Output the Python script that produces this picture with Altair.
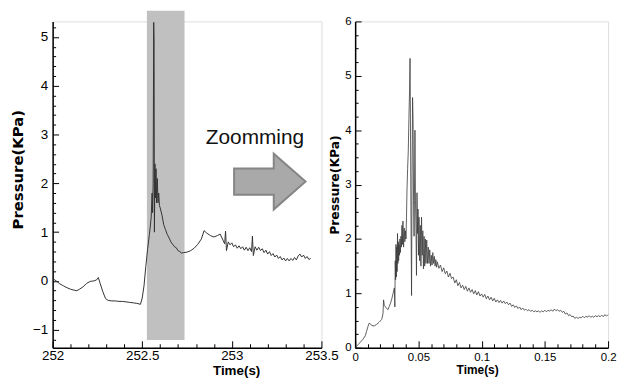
import altair as alt
import pandas as pd

# ---------------- data ----------------
left_time = [
    252.000, 252.020, 252.040, 252.060, 252.080, 252.100, 252.120, 252.135, 252.150, 252.170,
    252.190, 252.210, 252.230, 252.245, 252.255, 252.265, 252.280, 252.295, 252.310, 252.330,
    252.350, 252.370, 252.390, 252.410, 252.430, 252.450, 252.470, 252.490, 252.500, 252.510,
    252.520, 252.530, 252.540, 252.550, 252.555, 252.558, 252.561, 252.564, 252.566, 252.568,
    252.571, 252.574, 252.577, 252.580, 252.584, 252.588, 252.592, 252.596, 252.600, 252.610,
    252.620, 252.630, 252.640, 252.650, 252.660, 252.670, 252.680, 252.690, 252.700, 252.710,
    252.720, 252.730, 252.750, 252.770, 252.790, 252.810, 252.830, 252.845, 252.860, 252.880,
    252.900, 252.920, 252.935, 252.950, 252.960, 252.965, 252.970, 252.980, 252.990, 253.000,
    253.010, 253.020, 253.030, 253.040, 253.050, 253.060, 253.070, 253.080, 253.090, 253.100,
    253.110, 253.115, 253.120, 253.130, 253.140, 253.150, 253.160, 253.170, 253.180, 253.190,
    253.200, 253.210, 253.220, 253.230, 253.240, 253.250, 253.260, 253.270, 253.280, 253.290,
    253.300, 253.310, 253.320, 253.330, 253.340, 253.350, 253.360, 253.370, 253.380, 253.390,
    253.400, 253.410, 253.420, 253.430, 253.440,
]
left_pressure = [
    0.05, 0.00, -0.06, -0.10, -0.14, -0.17, -0.19, -0.20, -0.17, -0.12,
    -0.05, -0.01, 0.00, 0.02, 0.07, -0.05, -0.22, -0.36, -0.40, -0.41,
    -0.41, -0.42, -0.42, -0.43, -0.44, -0.45, -0.46, -0.48, -0.35, -0.10,
    0.30, 0.65, 0.95, 1.30, 1.80, 1.40, 2.00, 5.30, 4.90, 1.00,
    2.40, 1.70, 2.30, 1.60, 2.10, 1.60, 1.80, 1.55, 1.50, 1.35,
    1.15, 1.05, 0.95, 0.88, 0.80, 0.75, 0.70, 0.68, 0.62, 0.60,
    0.57, 0.58, 0.59, 0.62, 0.67, 0.75, 0.86, 1.03, 0.98, 0.93,
    0.90, 0.93, 0.96, 0.84, 0.76, 1.02, 0.62, 0.80, 0.74, 0.78,
    0.70, 0.74, 0.67, 0.72, 0.66, 0.70, 0.63, 0.69, 0.62, 0.68,
    0.60, 0.92, 0.52, 0.70, 0.63, 0.69, 0.62, 0.66, 0.58, 0.63,
    0.55, 0.60, 0.52, 0.56, 0.49, 0.53, 0.46, 0.50, 0.43, 0.47,
    0.41, 0.46, 0.41, 0.46, 0.42, 0.48, 0.43, 0.51, 0.55, 0.49,
    0.53, 0.46, 0.50, 0.44, 0.46,
]

right_time = [
    0.000, 0.002, 0.004, 0.006, 0.008, 0.009, 0.010, 0.011, 0.012, 0.013,
    0.015, 0.017, 0.019, 0.021, 0.022, 0.0225, 0.023, 0.025, 0.026, 0.027,
    0.028, 0.029, 0.030, 0.0310, 0.0314, 0.0317, 0.0320, 0.0323, 0.0326, 0.0329,
    0.0332, 0.0335, 0.0338, 0.0341, 0.0344, 0.0347, 0.0350, 0.0354, 0.0358, 0.0362,
    0.0366, 0.0370, 0.0374, 0.0378, 0.0383, 0.0388, 0.0393, 0.0398, 0.0402, 0.0406,
    0.0410, 0.0415, 0.0420, 0.0425, 0.0430, 0.0434, 0.0437, 0.0441, 0.0446, 0.0450,
    0.0454, 0.0458, 0.0462, 0.0466, 0.0470, 0.0473, 0.0477, 0.0481, 0.0485, 0.0489,
    0.0493, 0.0497, 0.0501, 0.0505, 0.0510, 0.0515, 0.0520, 0.0525, 0.0530, 0.0535,
    0.0540, 0.0545, 0.0550, 0.0555, 0.0560, 0.0566, 0.0572, 0.0578, 0.0584, 0.0590,
    0.0596, 0.0602, 0.0608, 0.0614, 0.0620, 0.0626, 0.0632, 0.0638, 0.0644,
    0.06500, 0.06625, 0.06750, 0.06875, 0.07000, 0.07125, 0.07250, 0.07375, 0.07500, 0.07625,
    0.07750, 0.07875, 0.08000, 0.08125, 0.08250, 0.08375, 0.08500, 0.08625, 0.08750, 0.08875,
    0.09000, 0.09125, 0.09250, 0.09375, 0.09500, 0.09625, 0.09750, 0.09875, 0.10000, 0.10125,
    0.10250, 0.10375, 0.10500, 0.10625, 0.10750, 0.10875, 0.11000, 0.11125, 0.11250, 0.11375,
    0.11500, 0.11625, 0.11750, 0.11875, 0.12000, 0.12125, 0.12250, 0.12375, 0.12500, 0.12625,
    0.12750, 0.12875, 0.13000, 0.13125, 0.13250, 0.13375, 0.13500, 0.13625, 0.13750, 0.13875,
    0.14000, 0.14125, 0.14250, 0.14375, 0.14500, 0.14625, 0.14750, 0.14875, 0.15000, 0.15125,
    0.15250, 0.15375, 0.15500, 0.15625, 0.15750, 0.15875, 0.16000, 0.16125, 0.16250, 0.16375,
    0.16500, 0.16625, 0.16750, 0.16875, 0.17000, 0.17125, 0.17250, 0.17375, 0.17500, 0.17625,
    0.17750, 0.17875, 0.18000, 0.18125, 0.18250, 0.18375, 0.18500, 0.18625, 0.18750, 0.18875,
    0.19000, 0.19125, 0.19250, 0.19375, 0.19500, 0.19625, 0.19750, 0.19875, 0.20000,
]
right_pressure = [
    0.00, 0.05, 0.10, 0.15, 0.22, 0.30, 0.38, 0.45, 0.44, 0.41,
    0.40, 0.43, 0.47, 0.52, 0.62, 0.88, 0.78, 0.72, 0.70, 0.76,
    0.82, 0.90, 1.00, 1.10, 0.75, 1.60, 1.25, 1.90, 1.30, 1.85,
    1.40, 2.10, 1.55, 1.95, 1.60, 1.90, 1.70, 2.00, 1.75, 2.05,
    1.85, 2.25, 1.90, 2.33, 1.85, 2.20, 1.95, 2.15, 2.00, 2.40,
    2.90, 3.30, 3.60, 4.20, 4.70, 5.32, 4.30, 2.60, 0.96, 3.20,
    4.60, 4.20, 2.70, 2.05, 3.10, 4.00, 2.70, 2.20, 1.33, 2.85,
    2.10, 2.55, 1.70, 2.40, 1.60, 2.25, 1.50, 2.40, 1.70, 2.15,
    1.45, 2.05, 1.50, 2.00, 1.55, 1.98, 1.55, 1.85, 1.55, 1.80,
    1.50, 1.70, 1.52, 1.75, 1.55, 1.68, 1.50, 1.62, 1.48,
    1.58, 1.46, 1.52, 1.40, 1.47, 1.36, 1.41, 1.30, 1.37, 1.27,
    1.30, 1.19, 1.25, 1.14, 1.20, 1.10, 1.15, 1.07, 1.13, 1.04,
    1.10, 1.02, 1.07, 0.99, 1.05, 0.97, 1.03, 0.95, 0.99, 0.93,
    0.98, 0.90, 0.95, 0.88, 0.93, 0.86, 0.91, 0.84, 0.88, 0.83,
    0.87, 0.82, 0.86, 0.81, 0.84, 0.79, 0.82, 0.76, 0.79, 0.74,
    0.77, 0.72, 0.75, 0.70, 0.73, 0.69, 0.71, 0.68, 0.70, 0.67,
    0.69, 0.66, 0.68, 0.66, 0.68, 0.65, 0.68, 0.66, 0.69, 0.66,
    0.69, 0.67, 0.70, 0.67, 0.71, 0.68, 0.70, 0.67, 0.69, 0.65,
    0.67, 0.62, 0.64, 0.59, 0.61, 0.57, 0.58, 0.54, 0.56, 0.54,
    0.56, 0.55, 0.58, 0.55, 0.58, 0.56, 0.59, 0.56, 0.58, 0.56,
    0.59, 0.57, 0.59, 0.57, 0.60, 0.57, 0.61, 0.58, 0.61,
]

# zoomed window (shaded band) on the left panel
band_time = [252.526, 252.736]
band_pressure = [-1.21, 5.54]

# annotation
note_text = ["Zoomming"]
note_pos = [253.129, 2.80]
arrow_pos = [253.212, 2.036]

# ---------------- axes helpers ----------------
LABEL_FONT = "Liberation Sans Narrow, Arial Narrow, Liberation Sans"


def tick_axis(values, major_test, label_test, span, long_len, short_len, from_far, **kw):
    # inward ticks drawn as a short dash of each grid line, at the axis end
    if from_far:
        major = [0, span - long_len, long_len, 3000]
        minor = [0, span - short_len, short_len, 3000]
    else:
        major = [long_len, 3000]
        minor = [short_len, 3000]
    return alt.Axis(
        values=values,
        ticks=False,
        tickSize=0,
        grid=True,
        gridColor="black",
        gridOpacity=1,
        gridWidth=1,
        gridDash={"condition": {"test": major_test, "value": major}, "value": minor},
        domainColor="black",
        domainWidth=1.5,
        labelExpr=f"({label_test}) ? format(datum.value, '~f') : ''",
        labelColor="black",
        titleColor="black",
        labelOverlap=False,
        labelFlush=False,
        labelFont=LABEL_FONT,
        **kw,
    )


LW, LH = 271, 329
RW, RH = 255, 329

lx_vals = [round(252 + 0.1 * i, 4) for i in range(16)]
ly_vals = [round(-1.2 + 0.2 * i, 4) for i in range(33)]
rx_vals = [round(0.01 * i, 4) for i in range(21)]
ry_vals = [round(0.25 * i, 4) for i in range(25)]

half_test = "abs(datum.value*2 - round(datum.value*2)) < 1e-6"
int_test = "abs(datum.value - round(datum.value)) < 1e-6"
x05_test = "abs(datum.value*20 - round(datum.value*20)) < 1e-6"

left_x_axis = tick_axis(lx_vals, half_test, half_test, LH, 7, 4, True,
                        labelFontSize=13.5, labelPadding=1,
                        titleFont=LABEL_FONT, titleFontSize=13.5, titleFontWeight="bold",
                        titlePadding=1, titleX=185)
left_y_axis = tick_axis(ly_vals, int_test, int_test, LW, 6, 3, False,
                        labelFontSize=13.5, labelPadding=5,
                        titleFont="DejaVu Sans", titleFontSize=15, titleFontWeight="bold",
                        titlePadding=7, titleY=149)
right_x_axis = tick_axis(rx_vals, x05_test, x05_test, RH, 7, 4, True,
                         labelFontSize=11.5, labelPadding=4,
                         titleFont=LABEL_FONT, titleFontSize=12, titleFontWeight="bold",
                         titlePadding=1, titleX=123)
right_y_axis = tick_axis(ry_vals, int_test, int_test, RW, 6, 3, False,
                         labelFontSize=11.5, labelPadding=4,
                         titleFont="DejaVu Sans", titleFontSize=12.5, titleFontWeight="bold",
                         titlePadding=3)

# ---------------- left panel ----------------
lx = alt.X("t:Q", title="Time(s)", axis=left_x_axis,
           scale=alt.Scale(domain=[252, 253.5], nice=False, zero=False))
ly = alt.Y("p:Q", title="Pressure(KPa)", axis=left_y_axis,
           scale=alt.Scale(domain=[-1.37, 5.32], nice=False, zero=False))

left_df = pd.DataFrame({"t": left_time, "p": left_pressure})
band_df = pd.DataFrame({"t": [band_time[0]], "t2": [band_time[1]],
                        "p": [band_pressure[0]], "p2": [band_pressure[1]]})
note_df = pd.DataFrame({"t": [note_pos[0]], "p": [note_pos[1]], "label": note_text})
arrow_df = pd.DataFrame({"t": [arrow_pos[0]], "p": [arrow_pos[1]]})

band = alt.Chart(band_df).mark_rect(color="#c0c0c0", opacity=1).encode(
    x=lx, x2="t2", y=ly, y2="p2")
left_line = alt.Chart(left_df).mark_line(color="#333333", strokeWidth=1).encode(x=lx, y=ly)
note = alt.Chart(note_df).mark_text(
    font="Liberation Sans", fontSize=21, color="#111111", align="center", baseline="alphabetic"
).encode(x=lx, y=ly, text="label:N")
arrow_path = ("M -1 -0.37 L 0.11 -0.37 L 0.11 -0.78 L 1 0 L 0.11 0.78 "
              "L 0.11 0.37 L -1 0.37 Z")
arrow = alt.Chart(arrow_df).mark_point(
    shape=arrow_path, size=5184, filled=True, fill="#a9a9a9", stroke="#858585",
    strokeWidth=2, opacity=1, fillOpacity=1, strokeOpacity=1
).encode(x=lx, y=ly)

left = alt.layer(band, left_line, note, arrow).properties(width=LW, height=LH)

# ---------------- right panel ----------------
rx = alt.X("t:Q", title="Time(s)", axis=right_x_axis,
           scale=alt.Scale(domain=[0, 0.2], nice=False, zero=False))
ry = alt.Y("p:Q", title="Pressure(KPa)", axis=right_y_axis,
           scale=alt.Scale(domain=[0, 6], nice=False, zero=False))
right_df = pd.DataFrame({"t": right_time, "p": right_pressure})
right = alt.Chart(right_df).mark_line(color="#3a3a3a", strokeWidth=0.8).encode(
    x=rx, y=ry).properties(width=RW, height=RH)

chart = alt.hconcat(left, right, spacing=34, bounds="flush").properties(
    padding={"left": 2, "top": 0, "right": 0, "bottom": 0}
).configure_view(stroke=None).configure(background="white")

chart.save("out.html", embed_options={"renderer": "svg", "actions": False})
